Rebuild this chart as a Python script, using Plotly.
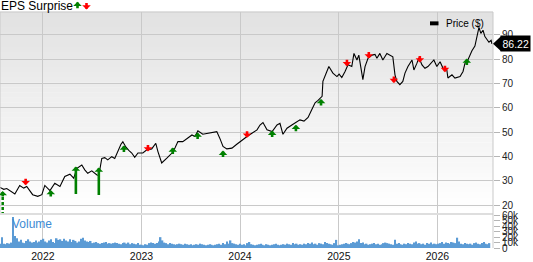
import plotly.graph_objects as go
import pandas as pd

# ---------------- data ----------------
price_dates = [
    # 2021
    "2021-07-26", "2021-08-09", "2021-08-20", "2021-09-04", "2021-09-19", "2021-10-07",
    "2021-10-22", "2021-11-02", "2021-11-13", "2021-11-24", "2021-12-13", "2021-12-28",
    # 2022
    "2022-01-08", "2022-01-27", "2022-02-14", "2022-03-05", "2022-03-23", "2022-04-11",
    "2022-04-25", "2022-05-07", "2022-05-25", "2022-06-05", "2022-06-16", "2022-07-01",
    "2022-07-20", "2022-07-27", "2022-08-07", "2022-08-18", "2022-08-29", "2022-09-13",
    "2022-09-24", "2022-10-06", "2022-10-17", "2022-10-24", "2022-11-04", "2022-11-15",
    "2022-11-26", "2022-12-07", "2022-12-19",
    # 2023
    "2023-01-06", "2023-01-21", "2023-02-08", "2023-02-23", "2023-03-03", "2023-03-17",
    "2023-04-05", "2023-04-24", "2023-05-05", "2023-05-16", "2023-06-03", "2023-06-22",
    "2023-07-07", "2023-07-18", "2023-07-29", "2023-08-16", "2023-09-04", "2023-09-23",
    "2023-10-07", "2023-10-18", "2023-10-30", "2023-11-13", "2023-12-02", "2023-12-20",
    # 2024
    "2024-01-08", "2024-01-27", "2024-02-14", "2024-03-04", "2024-03-15", "2024-03-26",
    "2024-04-10", "2024-04-29", "2024-05-17", "2024-05-28", "2024-06-08", "2024-06-23",
    "2024-07-11", "2024-07-22", "2024-08-10", "2024-08-25", "2024-09-09", "2024-09-23",
    "2024-10-05", "2024-10-16", "2024-10-31", "2024-11-03", "2024-11-18", "2024-11-25",
    "2024-12-10", "2024-12-25",
    # 2025
    "2025-01-02", "2025-01-12", "2025-01-24", "2025-02-04", "2025-02-18", "2025-02-26",
    "2025-03-09", "2025-03-16", "2025-03-31", "2025-04-08", "2025-04-19", "2025-05-04",
    "2025-05-15", "2025-05-22", "2025-06-02", "2025-06-13", "2025-06-28", "2025-07-09",
    "2025-07-20", "2025-07-28", "2025-08-04", "2025-08-15", "2025-08-26", "2025-09-03",
    "2025-09-14", "2025-09-29", "2025-10-06", "2025-10-17", "2025-10-25", "2025-11-05",
    "2025-11-16", "2025-11-27", "2025-12-12", "2025-12-19", "2025-12-30",
    # 2026
    "2026-01-11", "2026-01-22", "2026-02-05", "2026-02-09", "2026-02-24", "2026-03-07",
    "2026-03-26", "2026-04-06", "2026-04-13", "2026-04-24", "2026-05-09", "2026-05-20",
    "2026-05-28", "2026-06-04", "2026-06-11", "2026-06-19", "2026-06-26", "2026-07-04",
    "2026-07-11", "2026-07-19", "2026-07-22",
]
price_values = [
    # 2021
    27.3, 26.5, 26.8, 25.8, 24.6, 28.1, 27.0, 27.7, 26.0, 24.3, 23.6, 24.3,
    # 2022
    28.1, 26.0, 29.0, 27.7, 31.8, 32.7, 31.1, 35.1, 36.5, 34.5, 33.1, 34.1,
    32.4, 32.2, 39.2, 39.5, 38.6, 39.9, 39.2, 42.6, 45.0, 46.0, 43.9, 42.5,
    41.4, 39.6, 41.4,
    # 2023
    41.4, 42.7, 43.1, 45.4, 42.0, 37.3, 39.3, 41.4, 43.5, 46.1, 46.1, 47.5,
    48.8, 48.2, 50.5, 49.1, 49.5, 49.9, 50.2, 47.5, 44.1, 43.1, 43.4, 45.0,
    # 2024
    46.8, 48.2, 49.5, 50.9, 52.9, 53.9, 50.9, 50.2, 52.9, 53.6, 49.1, 51.6,
    52.9, 53.6, 55.0, 54.5, 56.0, 59.3, 62.0, 63.0, 64.7, 70.8, 75.5, 76.9,
    74.2, 72.8,
    # 2025
    73.8, 72.4, 74.9, 77.6, 76.9, 82.3, 79.6, 81.6, 71.5, 76.9, 80.3, 81.6,
    81.9, 80.3, 82.3, 79.6, 82.3, 81.6, 80.9, 73.5, 70.8, 69.5, 70.8, 74.2,
    76.9, 79.6, 75.5, 78.2, 80.5, 77.6, 76.2, 76.9, 78.9, 79.6, 76.9,
    # 2026
    78.9, 76.2, 75.5, 72.2, 73.5, 72.2, 72.8, 74.9, 78.2, 79.6, 83.4, 85.3,
    89.9, 93.0, 90.5, 91.8, 89.2, 88.2, 86.9, 87.7, 86.22,
]

eps_dates = ["2021-08-05", "2021-10-29", "2022-01-30", "2022-05-03", "2022-07-27",
             "2022-10-28", "2023-01-25", "2023-04-27", "2023-07-28", "2023-10-30",
             "2024-01-27", "2024-04-29", "2024-07-26", "2024-10-27", "2025-01-31",
             "2025-04-22", "2025-07-24", "2025-10-28", "2026-01-29", "2026-04-20"]
eps_prices = [25.8, 28.2, 26.2, 35.9, 35.5, 44.5, 42.0, 43.7, 49.8, 42.4,
              47.7, 50.6, 53.0, 63.6, 77.0, 80.2, 70.1, 78.6, 74.6, 80.2]
eps_surprise_pct = [40, -5, 6, 45, 42, 8, -4, 7, 6, 8,
                    -5, 6, 5, 9, -6, -4, -7, -5, -6, 7]

volume_k = [
    # 2021 (weekly, thousands)
    8, 20, 8, 7, 9, 8, 10, 57, 22, 18, 12, 15, 10, 9, 13, 16, 12, 10, 11, 14, 10, 12, 15,
    # 2022
    17, 12, 10, 14, 16, 11, 9, 18, 15, 16, 13, 17, 14, 12, 16, 11, 15, 13, 10, 12,
    17, 19, 14, 12, 11, 13, 9, 10, 11, 9, 8, 9, 10, 11, 8, 9, 8, 9, 10, 9,
    8, 7, 9, 10, 8, 10, 7, 9, 8, 7, 9, 6,
    # 2023
    6, 5, 7, 6, 9, 10, 9, 8, 9, 12, 20, 14, 10, 9, 7, 9, 8, 7, 6, 7,
    8, 7, 6, 8, 7, 6, 7, 5, 6, 7, 6, 8, 7, 6, 5, 6, 7, 6, 5, 6,
    7, 8, 6, 9, 7, 12, 8, 14, 9, 8, 7, 6,
    # 2024
    8, 6, 7, 5, 9, 11, 7, 6, 5, 6, 7, 8, 6, 5, 7, 6, 5, 6, 7, 8,
    6, 5, 6, 7, 6, 8, 7, 6, 9, 7, 8, 6, 7, 6, 8, 7, 9, 8, 10, 7,
    8, 6, 9, 8, 7, 11, 9, 8, 7, 6, 9, 15,
    # 2025
    5, 6, 7, 8, 9, 8, 7, 9, 11, 10, 12, 16, 9, 10, 7, 8, 6, 7, 8, 9,
    7, 8, 6, 7, 9, 10, 9, 8, 7, 6, 15, 8, 9, 7, 6, 8, 7, 9, 8, 7,
    10, 12, 8, 9, 7, 8, 6, 9, 8, 10, 7, 8,
    # 2026
    7, 8, 9, 11, 8, 10, 9, 8, 11, 10, 9, 19, 12, 8, 7, 9, 8, 7, 8, 6,
    9, 10, 8, 7, 9, 11, 8, 7, 9,
]
volume_start = "2021-07-26"

year_ticks = ["2022-01-01", "2023-01-01", "2024-01-01", "2025-01-01", "2026-01-01"]
year_labels = ["2022", "2023", "2024", "2025", "2026"]
x_range = ["2021-07-26", "2026-07-26"]
price_ticks = [20, 30, 40, 50, 60, 70, 80, 90]
volume_ticks = [0, 10, 20, 30, 40, 50, 60]
volume_tick_labels = ["0", "10k", "20k", "30k", "40k", "50k", "60k"]

# ---------------- layout geometry ----------------
W, H = 533, 262
ML, MR, MT, MB = 0, 40, 12, 11
PW, PH = W - ML - MR, H - MT - MB
FONT = "Liberation Sans, Arial, sans-serif"
GRID = "#c9c9c9"
GREEN = "#008000"
RED = "#ff0000"


def fx(px):
    return (px - ML) / PW


def fy(py):
    return 1 - (py - MT) / PH


price_dom = [fy(215.5), 1]
vol_dom = [0, fy(217.5)]

vol_dates = pd.date_range(volume_start, periods=len(volume_k), freq="7D")

fig = go.Figure()
fig.add_trace(go.Scatter(x=pd.to_datetime(price_dates), y=price_values, mode="lines",
                         line=dict(color="#000000", width=1.1), xaxis="x", yaxis="y",
                         showlegend=False, hoverinfo="skip"))
fig.add_trace(go.Bar(x=vol_dates, y=volume_k, marker=dict(color="#5b9bd5", line=dict(width=0)),
                     xaxis="x2", yaxis="y2", showlegend=False, hoverinfo="skip"))

shapes = []
# gradient background for price panel
N = 40
top_rgb = (226, 226, 226)
bot_rgb = (255, 255, 255)
for i in range(N):
    t = i / (N - 1)
    c = tuple(int(round(bot_rgb[k] + (top_rgb[k] - bot_rgb[k]) * t)) for k in range(3))
    shapes.append(dict(type="rect", xref="x domain", yref="y domain", x0=0, x1=1,
                       y0=i / N, y1=(i + 1) / N + 0.001, fillcolor="rgb(%d,%d,%d)" % c,
                       line=dict(width=0), layer="below"))
# separator band between panels
shapes.append(dict(type="rect", xref="paper", yref="paper", x0=0, x1=1,
                   y0=vol_dom[1], y1=price_dom[0], fillcolor="#dedede", line=dict(width=0)))
# borders
shapes.append(dict(type="line", xref="paper", yref="paper", x0=0, x1=1, y0=1, y1=1,
                   line=dict(color=GRID, width=1)))
shapes.append(dict(type="line", xref="paper", yref="paper", x0=0, x1=0, y0=price_dom[0], y1=1,
                   line=dict(color=GRID, width=1)))
shapes.append(dict(type="line", xref="paper", yref="paper", x0=1, x1=1, y0=0, y1=1,
                   line=dict(color=GRID, width=1)))
# legend swatch
shapes.append(dict(type="rect", xref="paper", yref="paper", x0=fx(430), x1=fx(438.5),
                   y0=fy(25.5), y1=fy(21.5), fillcolor="#000000", line=dict(width=0)))
# last price pointer
last_price = price_values[-1]
shapes.append(dict(type="path", xref="paper", yref="y", xsizemode="pixel", ysizemode="pixel",
                   xanchor=1, yanchor=last_price, path="M0,0 L8,7.5 L8,-7.5 Z",
                   fillcolor="#000000", line=dict(width=0)))

annotations = []
# EPS arrows
for i, (d, p, s) in enumerate(zip(eps_dates, eps_prices, eps_surprise_pct)):
    beat = s > 0
    length = 29 if abs(s) >= 20 else 8
    dashed = (i == 0)
    if dashed:
        length = 7
        shapes.append(dict(type="line", xref="x", yref="y", ysizemode="pixel", yanchor=p,
                           x0=d, x1=d, y0=-6, y1=-22,
                           line=dict(color=GREEN, width=2.5, dash="3px,2px")))
    annotations.append(dict(x=d, y=p, xref="x", yref="y", text="", showarrow=True,
                            ax=0, ay=length if beat else -length,
                            arrowhead=1, arrowsize=0.55, arrowwidth=2.6, standoff=0,
                            arrowcolor=GREEN if beat else RED))

# title and its arrows
annotations.append(dict(x=0, y=fy(5.5), xref="paper", yref="paper", text="EPS Surprise",
                        showarrow=False, xanchor="left", yanchor="middle", xshift=-1,
                        font=dict(family=FONT, size=12, color="#000000")))
annotations.append(dict(x=fx(77.5), y=fy(1.5), xref="paper", yref="paper", text="",
                        showarrow=True, ax=0, ay=8, arrowhead=1, arrowsize=0.55,
                        arrowwidth=2.6, standoff=0, arrowcolor=GREEN))
annotations.append(dict(x=fx(86.5), y=fy(9.5), xref="paper", yref="paper", text="",
                        showarrow=True, ax=0, ay=-8, arrowhead=1, arrowsize=0.55,
                        arrowwidth=2.6, standoff=0, arrowcolor=RED))
# legend text
annotations.append(dict(x=fx(444), y=fy(23.5), xref="paper", yref="paper", text="Price ($)",
                        showarrow=False, xanchor="left", yanchor="middle",
                        font=dict(family=FONT, size=10, color="#000000")))
# last price label
annotations.append(dict(x=1, y=last_price, xref="paper", yref="y", text="%.2f" % last_price,
                        showarrow=False, xanchor="left", yanchor="middle", xshift=7,
                        bgcolor="#000000", borderpad=1.5,
                        font=dict(family=FONT, size=10.5, color="#ffffff")))
# volume label
annotations.append(dict(x=fx(9.5), y=fy(227), xref="paper", yref="paper", text="Volume",
                        showarrow=False, xanchor="left", yanchor="middle",
                        font=dict(family=FONT, size=12, color="#3d8bd4")))

fig.update_layout(
    width=W, height=H,
    margin=dict(l=ML, r=MR, t=MT, b=MB, pad=0),
    paper_bgcolor="#ffffff", plot_bgcolor="#ffffff",
    showlegend=False, bargap=0.2,
    font=dict(family=FONT, size=10, color="#222222"),
    shapes=shapes, annotations=annotations,
    xaxis=dict(domain=[0, 1], anchor="y", type="date", range=x_range,
               tickvals=year_ticks, showticklabels=False, showgrid=True,
               gridcolor=GRID, gridwidth=1, zeroline=False, showline=False, ticks=""),
    xaxis2=dict(domain=[0, 1], anchor="y2", type="date", range=x_range, matches="x",
                tickvals=year_ticks, ticktext=year_labels, showgrid=True,
                gridcolor=GRID, gridwidth=1, zeroline=False, showline=False, ticks="",
                tickfont=dict(family=FONT, size=10.5, color="#111111")),
    yaxis=dict(domain=price_dom, anchor="x", side="right", range=[16.8, 99.3],
               tickvals=price_ticks, showgrid=True, gridcolor=GRID, gridwidth=1,
               zeroline=False, showline=False, ticks="outside", ticklen=6,
               tickcolor="#b5b5b5", tickfont=dict(family=FONT, size=10, color="#222222")),
    yaxis2=dict(domain=vol_dom, anchor="x2", side="right", range=[0, 61],
                tickvals=volume_ticks, ticktext=volume_tick_labels, showgrid=False,
                zeroline=False, showline=False, ticks="outside", ticklen=6,
                tickcolor="#b5b5b5", tickfont=dict(family=FONT, size=10, color="#222222")),
)

fig.write_html("out.html")
